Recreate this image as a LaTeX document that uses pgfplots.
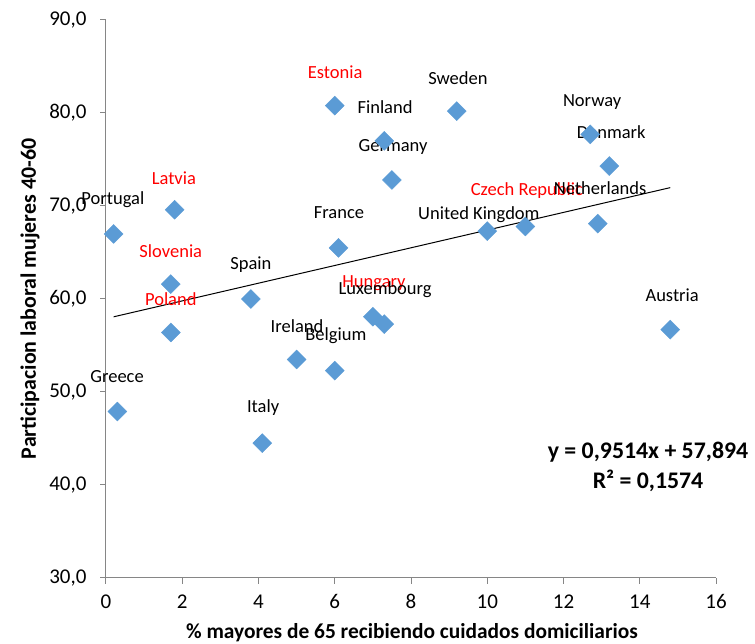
\documentclass[border=0pt]{standalone}
\usepackage{fontspec}
\setmainfont{Carlito}
\usepackage{pgfplots}
\pgfplotsset{compat=1.18}
\definecolor{mk}{HTML}{5B9BD5}
\definecolor{axgray}{HTML}{868686}
\definecolor{lblred}{HTML}{FF0000}

\tikzset{
  label node/.style={font=\fontsize{18.5}{20}\selectfont, text=black, inner sep=0pt},
  red node/.style={font=\fontsize{18.5}{20}\selectfont, text=lblred, inner sep=0pt},
}

\pgfplotstableread{
x     y
0.2   67.0
1.8   69.6
1.7   61.6
1.7   56.4
3.8   60.0
0.3   47.9
4.1   44.5
5.0   53.5
6.0   52.3
6.1   65.5
6.0   80.8
7.3   77.0
7.5   72.8
9.2   80.2
7.0   58.1
7.3   57.3
10.0  67.3
11.0  67.8
12.9  68.1
12.7  77.7
13.2  74.3
14.8  56.7
}\paises

\begin{document}
\begin{tikzpicture}[x=1pt,y=1pt]
\useasboundingbox (0,0) rectangle (755,644);
\begin{axis}[
    at={(106pt,66pt)}, anchor=south west,
    scale only axis, width=610pt, height=558pt,
    xmin=0, xmax=16, ymin=30, ymax=90,
    xtick={0,2,...,16}, ytick={30,40,...,90},
    axis x line=bottom, axis y line=left,
    axis line style={-, draw=axgray, line width=1pt},
    tick align=outside, major tick length=6pt,
    tick style={draw=axgray, line width=1pt},
    tick label style={font=\fontsize{21}{24}\selectfont},
    /pgf/number format/assume math mode=true,
    yticklabel style={xshift=-10pt, /pgf/number format/.cd, fixed, fixed zerofill, precision=1, use comma},
    xticklabel style={yshift=-7pt},
    clip=false,
]
% linea de tendencia
\addplot[black, line width=1pt] coordinates {(0.2,58.084) (14.8,71.975)};
\addplot[only marks, mark=square*, mark size=6.7pt,
  mark options={rotate=45, fill=mk, draw=mk}] table[x=x, y=y] {\paises};

\node[red node]   at (axis cs:6.01,84.41) {Estonia};
\node[label node] at (axis cs:9.23,83.76) {Sweden};
\node[label node] at (axis cs:7.32,80.65) {Finland};
\node[label node] at (axis cs:12.75,81.18) {Norway};
\node[label node] at (axis cs:13.25,77.96) {Denmark};
\node[label node] at (axis cs:7.53,76.34) {Germany};
\node[red node]   at (axis cs:1.78,73.01) {Latvia};
\node[label node] at (axis cs:0.18,70.65) {Portugal};
\node[label node] at (axis cs:6.11,69.25) {France};
\node[label node] at (axis cs:9.78,69.03) {United Kingdom};
\node[red node]   at (axis cs:11.04,71.61) {Czech Republic};
\node[label node] at (axis cs:12.96,71.94) {Netherlands};
\node[red node]   at (axis cs:1.70,65.16) {Slovenia};
\node[label node] at (axis cs:3.80,63.66) {Spain};
\node[red node]   at (axis cs:7.03,61.72) {Hungary};
\node[label node] at (axis cs:7.32,60.97) {Luxembourg};
\node[red node]   at (axis cs:1.70,60.00) {Poland};
\node[label node] at (axis cs:14.85,60.43) {Austria};
\node[label node] at (axis cs:5.01,57.10) {Ireland};
\node[label node] at (axis cs:6.03,56.02) {Belgium};
\node[label node] at (axis cs:0.29,51.61) {Greece};
\node[label node] at (axis cs:4.12,48.28) {Italy};
\end{axis}
\node[font=\bfseries\fontsize{21.4}{24}\selectfont] at (412,11.5) {\% mayores de 65 recibiendo cuidados domiciliarios};
\node[font=\bfseries\fontsize{21.9}{24}\selectfont, rotate=90] at (30,345) {Participacion laboral mujeres 40-60};
\node[font=\bfseries\fontsize{23.8}{26}\selectfont] at (648,192) {y = 0,9514x + 57,894};
\node[font=\bfseries\fontsize{23.8}{26}\selectfont] at (648,163) {R² = 0,1574};
\end{tikzpicture}
\end{document}
